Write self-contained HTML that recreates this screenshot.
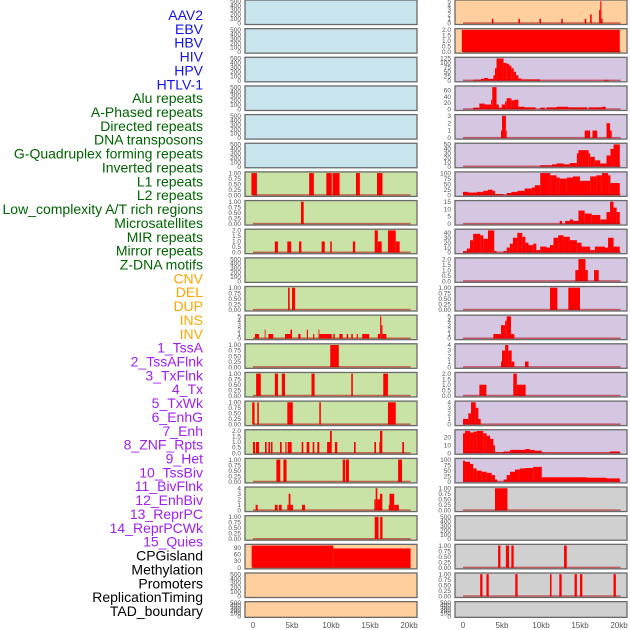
<!DOCTYPE html>
<html><head><meta charset="utf-8">
<style>
html,body{margin:0;padding:0;background:#fff;}
svg{display:block;font-family:"Liberation Sans",sans-serif;}
</style></head>
<body>
<svg id="chart" width="630" height="630" viewBox="0 0 630 630" xmlns="http://www.w3.org/2000/svg"></svg>
<script>
// ---- row labels ----
const rowLabels = ["AAV2","EBV","HBV","HIV","HPV","HTLV-1",
 "Alu repeats","A-Phased repeats","Directed repeats","DNA transposons","G-Quadruplex forming repeats","Inverted repeats","L1 repeats","L2 repeats","Low_complexity A/T rich regions","Microsatellites","MIR repeats","Mirror repeats","Z-DNA motifs",
 "CNV","DEL","DUP","INS","INV",
 "1_TssA","2_TssAFlnk","3_TxFlnk","4_Tx","5_TxWk","6_EnhG","7_Enh","8_ZNF_Rpts","9_Het","10_TssBiv","11_BivFlnk","12_EnhBiv","13_ReprPC","14_ReprPCWk","15_Quies",
 "CPGisland","Methylation","Promoters","ReplicationTiming","TAD_boundary"];
const labelGroups = [6,13,5,15,5];
const groupColors = ["#1414e6","#006400","#ffa500","#a020f0","#000000"];

// ---- x axis ----
const xTickValues = [0,5,10,15,20];
const xTickLabels = ["0","5kb","10kb","15kb","20kb"];

// ---- panel backgrounds ----
const midBg = ["b","b","b","b","b","b","g","g","g","g","g","g","g","g","g","g","g","g","g","p","p","p"];
const rightBg = ["p","p","l","l","l","l","l","l","l","l","l","l","l","l","l","l","l","y","y","y","y","y"];

// ---- y tick sets ----
const midTicks = [
 ["0","100","200","300","400","500"],["0","100","200","300","400","500"],["0","100","200","300","400","500"],
 ["0","100","200","300","400","500"],["0","100","200","300","400","500"],["0","100","200","300","400","500"],
 ["0.00","0.25","0.50","0.75","1.00"],["0.00","0.25","0.50","0.75","1.00"],["0.0","0.5","1.0","1.5","2.0"],
 ["0","100","200","300","400","500"],["0.00","0.25","0.50","0.75","1.00"],["0","1","2","3","4","5"],
 ["0.00","0.25","0.50","0.75","1.00"],["0.00","0.25","0.50","0.75","1.00"],["0.00","0.25","0.50","0.75","1.00"],
 ["0.0","0.5","1.0","1.5","2.0"],["0.00","0.25","0.50","0.75","1.00"],["0","1","2","3","4"],
 ["0.00","0.25","0.50","0.75","1.00"],["0","30","60","90"],["0","100","200","300","400","500"],["0","100","200","300","400","500"]];
const midMax = [500,500,500,500,500,500,1,1,2,500,1,5,1,1,1,2,1,4,1,100,500,500];
const rightTicks = [
 ["0","1","2","3","4","5"],["0.0","0.5","1.0","1.5","2.0"],["0","25","50","75","100","125"],["0","20","40","60"],
 ["0","1","2","3"],["0","10","20","30","40","50"],["0","25","50","75","100"],["0","5","10","15"],
 ["0","10","20","30","40"],["0.0","0.5","1.0","1.5","2.0"],["0.00","0.25","0.50","0.75","1.00"],["0","1","2","3","4","5"],
 ["0","1","2","3","4"],["0.0","0.5","1.0","1.5","2.0"],["0","1","2","3","4"],["0","10","20"],
 ["0","25","50","75","100"],["0.00","0.25","0.50","0.75","1.00"],["0","100","200","300","400","500"],
 ["0.00","0.25","0.50","0.75","1.00"],["0.00","0.25","0.50","0.75","1.00"],["0","100","200","300","400","500"]];
const rightMax = [5,2,125,70,3,50,100,15,45,2,1,5,4,2,4,28,100,1,500,1,1,500];

// ---- series: [startKb, endKb, value] ----
const midSeries = [[],[],[],[],[],[],
 [[-0.2,0.5,1],[7.2,7.8,1],[9.4,10.1,1],[10.2,11.1,1],[13.2,13.7,1],[15.9,16.6,1]],
 [[6.15,6.5,1]],
 [[2.8,3.2,1],[4.4,4.9,1],[5.9,6.2,1],[8.8,9.2,1],[9.9,10.1,1],[12.8,13.1,1],[15.6,16.0,2],[16.0,16.5,1],[17.3,18.3,2],[18.3,18.8,1]],
 [],
 [[4.5,4.7,1],[5.0,5.4,1]],
 [[0.26,0.77,1],[1.5,1.6,2],[1.97,2.6,1],[4.1,4.8,1],[4.8,5.0,2],[5.8,6.1,1],[6.9,7.05,2],[7.7,7.85,1],[8.4,8.5,2],[8.5,10.1,1],[10.3,10.5,1],[11.07,11.5,1],[12.0,12.2,1],[12.6,12.8,1],[13.3,13.45,1],[14.0,14.9,1],[16.0,16.3,1],[16.3,16.45,5],[16.45,16.6,3],[16.6,17.1,1]],
 [[9.9,11.0,1]],
 [[0.4,1.0,1],[2.8,3.2,1],[3.7,4.1,1],[7.5,7.9,1],[12.6,12.8,1],[16.7,17.3,1]],
 [[-0.1,0.2,1],[0.55,0.75,1],[4.4,5.1,1],[8.5,8.7,1],[17.3,18.3,1]],
 [[-0.01,0.26,1],[0.38,0.77,1],[1.54,1.75,1],[1.97,2.18,1],[2.3,2.5,1],[3.46,3.68,1],[4.15,4.3,1],[4.45,4.96,1],[6.24,6.45,1],[6.88,7.22,1],[7.65,7.86,1],[8.25,8.5,1],[9.5,9.87,1],[9.87,10.1,2],[10.5,10.8,1],[12.95,13.16,1],[15.56,15.77,1],[16.2,16.28,1],[16.28,16.58,2],[19.14,19.36,1]],
 [[3.0,3.5,1],[3.9,4.3,1],[11.5,11.8,1],[11.9,12.3,1],[18.6,19.1,1]],
 [[0.34,0.6,1],[2.8,3.16,1],[3.33,3.68,1],[4.4,4.57,1],[4.57,4.8,3],[4.8,5.13,1],[6.28,6.67,1],[15.56,15.73,2],[15.73,15.94,4],[15.94,16.28,2],[16.28,16.58,3],[17.4,17.5,1],[17.5,18.1,3],[18.1,18.7,1]],
 [[15.6,16.1,1],[16.3,16.6,1]],
 [[-0.17,10.3,100],[10.3,20.2,87]],
 [],[]];
const rightSeries = [
 [[3.7,3.9,1],[7.1,7.3,1],[9.8,10.0,1],[12.6,12.8,1],[15.6,15.8,1],[16.3,16.5,2],[17.45,17.6,3],[17.6,17.75,5],[17.75,17.9,1]],
 [[-0.15,20.1,2]],
 [[1.3,2.3,5],[2.3,2.7,10],[2.7,3.2,15],[3.2,3.9,10],[3.9,4.1,30],[4.1,4.3,70],[4.3,5.2,125],[5.2,5.6,100],[5.6,5.9,95],[5.9,6.2,85],[6.2,6.5,70],[6.5,6.8,50],[6.8,7.1,30],[7.1,7.5,12],[7.5,9.9,7],[18.1,18.7,4]],
 [[1.3,2.1,5],[2.1,2.8,18],[2.8,3.6,15],[3.6,3.75,30],[3.75,4.3,70],[4.3,4.6,15],[4.6,4.96,5],[4.96,5.4,15],[5.4,5.6,25],[5.6,6.2,35],[6.2,6.6,28],[6.6,7.1,30],[7.1,7.9,8],[7.9,9.3,6],[9.9,10.5,5],[10.7,12.0,6],[12.0,13.5,8],[13.5,15.9,6],[16.1,17.8,6],[17.8,18.3,8]],
 [[4.87,5.0,1],[5.0,5.5,3],[5.5,5.6,1],[15.6,16.3,1],[16.6,17.2,1],[18.4,18.85,2],[18.85,19.06,1]],
 [[9.9,11.4,3],[11.4,12.0,5],[12.0,12.9,7],[12.9,13.7,5],[13.7,14.6,8],[14.6,14.8,30],[14.8,16.1,37],[16.1,16.3,30],[16.3,16.9,22],[16.9,17.6,14],[17.6,18.4,7],[18.4,18.9,25],[18.9,19.3,40],[19.3,20.1,50]],
 [[0,0.7,15],[0.7,1.8,12],[1.8,2.6,15],[2.6,3.2,20],[3.2,3.8,25],[3.8,4.1,20],[4.1,5.2,5],[5.2,5.6,1],[5.6,6.2,10],[6.2,7.0,15],[7.0,7.9,20],[7.9,8.8,30],[8.8,9.2,35],[9.2,9.9,45],[9.9,11.2,100],[11.2,12.0,90],[12.0,12.4,80],[12.4,13.3,75],[13.3,14.1,80],[14.1,15.0,85],[15.0,16.3,65],[16.3,17.1,85],[17.1,17.8,90],[17.8,18.6,100],[18.6,18.9,90],[18.9,20.1,55]],
 [[12.4,12.7,2],[13.1,13.7,2],[13.7,14.1,3],[14.1,14.8,2],[14.8,15.6,9],[15.6,16.5,7],[16.5,17.6,6],[17.6,18.4,3],[18.4,18.85,8],[18.85,19.3,15],[19.3,19.7,11],[19.7,20.1,8]],
 [[0,0.5,3],[0.5,0.9,8],[0.9,1.3,25],[1.3,2.2,38],[2.2,2.6,35],[2.6,3.2,28],[3.2,4.0,45],[4.0,4.3,3],[5.2,5.6,3],[5.6,6.0,10],[6.0,6.4,18],[6.4,6.96,30],[6.96,7.6,40],[7.6,8.0,32],[8.0,8.4,20],[8.4,9.0,15],[9.0,9.4,18],[9.4,9.9,5],[9.9,10.7,12],[10.7,11.15,10],[11.15,11.6,15],[11.6,12.2,30],[12.2,12.9,35],[12.9,13.7,32],[13.7,14.6,25],[14.6,15.2,20],[15.2,16.3,12],[16.3,16.9,5],[16.9,18.2,12],[18.2,18.6,10],[18.6,19.3,30],[19.3,20.1,12]],
 [[14.4,14.8,1],[14.8,15.7,2],[15.7,16.0,1],[16.8,17.4,1]],
 [[11.15,12.1,1],[13.5,15.0,1]],
 [[3.9,4.87,1],[4.87,5.4,3],[5.4,5.6,4],[5.6,6.15,5],[6.15,6.58,1]],
 [[4.87,5.0,1],[5.0,5.4,3],[5.4,5.8,4],[5.8,6.24,3],[6.24,6.58,1],[7.95,8.4,1]],
 [[2.1,3.0,1],[6.45,6.9,2],[6.9,8.03,1]],
 [[0,0.68,1],[0.68,1.03,2],[1.03,1.63,4],[1.63,1.97,3],[1.97,2.27,1]],
 [[0,0.26,25],[0.26,0.9,28],[0.9,1.3,26],[1.3,1.75,27],[1.75,2.6,28],[2.6,3.03,25],[3.03,3.46,22],[3.46,3.9,18],[3.9,4.1,10],[4.1,5.2,1],[5.2,6.03,2],[6.03,7.95,4],[7.95,8.6,5],[8.6,9.2,4],[9.2,10.1,3],[10.1,18.85,0.5],[18.85,20.1,2]],
 [[0,0.26,95],[0.26,0.9,90],[0.9,1.3,80],[1.3,1.75,60],[1.75,2.4,50],[2.4,3.03,45],[3.03,3.68,40],[3.68,4.1,30],[4.1,4.4,10],[5.2,5.6,10],[5.6,6.03,30],[6.03,6.67,45],[6.67,7.3,55],[7.3,7.95,60],[7.95,9.0,62],[9.0,10.1,67],[10.1,15.9,20],[15.9,18.4,18],[18.4,20.1,15]],
 [[4.1,5.7,1]],
 [],
 [[4.5,4.8,1],[5.5,5.9,1],[6.2,6.5,1],[12.95,13.3,1]],
 [[2.2,2.5,1],[3.0,3.3,1],[6.7,7.0,1],[11.15,11.35,1],[12.35,12.65,1],[14.3,14.6,1],[15.0,15.3,1],[19.3,19.6,1]],
 []];

const NS = "http://www.w3.org/2000/svg";
const svg = document.getElementById("chart");
const bgColors = {b:"#c8e4ec",g:"#c9e2a6",p:"#ffcf9e",l:"#d5c6e2",y:"#d0d0d0"};
function mk(tag, attrs, parent){ const e=document.createElementNS(NS,tag); for(const k in attrs) e.setAttribute(k,attrs[k]); (parent||svg).appendChild(e); return e; }

// row labels
let li=0;
labelGroups.forEach((n,g)=>{ for(let k=0;k<n;k++){
  const t = mk("text",{x:203,y:15+li*13.86+5,"text-anchor":"end","font-size":"14",fill:groupColors[g]});
  t.textContent = rowLabels[li];
  
  
  li++; }});

function rowTop(i){ return i*28.65; }
function rowH(i){ return i===21 ? 15.7 : 24.5; }

function drawColumn(colName, px0, zeroX, bgs, ticks, maxs, series){
  const xs = kb => zeroX + kb*7.8;
  for(let i=0;i<22;i++){
    const T=rowTop(i), H=rowH(i);
    const g = mk("g",{});
    
    
    const y0 = T+H-1.2, yT = T+1.2;
    const ys = v => y0 - v/maxs[i]*(y0-yT);
    const bg = mk("rect",{x:px0,y:T,width:172,height:H,fill:bgColors[bgs[i]]},g);
    
    
    const clipId = colName+"clip"+i;
    const cp = mk("clipPath",{id:clipId},g);
    mk("rect",{x:px0,y:T,width:172,height:H},cp);
    const marks = mk("g",{"clip-path":"url(#"+clipId+")"},g);
    series[i].forEach(s=>{
      const x1 = xs(s[0]), x2 = xs(s[1]), yy = ys(s[2]);
      const r = mk("rect",{x:x1,y:yy,width:Math.max(0.8,x2-x1),height:Math.max(0,y0-yy),fill:"#ff0000"},marks);
      
      
    });
    if(series[i].length){
      const bl = mk("rect",{x:xs(0),y:y0-1,width:xs(20.2)-xs(0),height:1.6,fill:"#b00000","fill-opacity":"0.55"},marks);
      
      
    }
    const fr = mk("rect",{x:px0,y:T,width:172,height:H,fill:"none",stroke:"#6a6a6a","stroke-width":"1.3"},g);
    
    
    ticks[i].forEach(lbl=>{
      const t = mk("text",{x:px0-4,y:ys(parseFloat(lbl))+2.2,"text-anchor":"end","font-size":"6.5",fill:"#555"},g);
      t.textContent = lbl;
      
      
    });
  }
  xTickValues.forEach((v,k)=>{
    const t = mk("text",{x:xs(v),y:628,"text-anchor":"middle","font-size":"8",fill:"#555"});
    t.textContent = xTickLabels[k];
    
    
  });
}
drawColumn("middle",245,253,midBg,midTicks,midMax,midSeries);
drawColumn("right",455,463,rightBg,rightTicks,rightMax,rightSeries);
</script>
</body></html>
